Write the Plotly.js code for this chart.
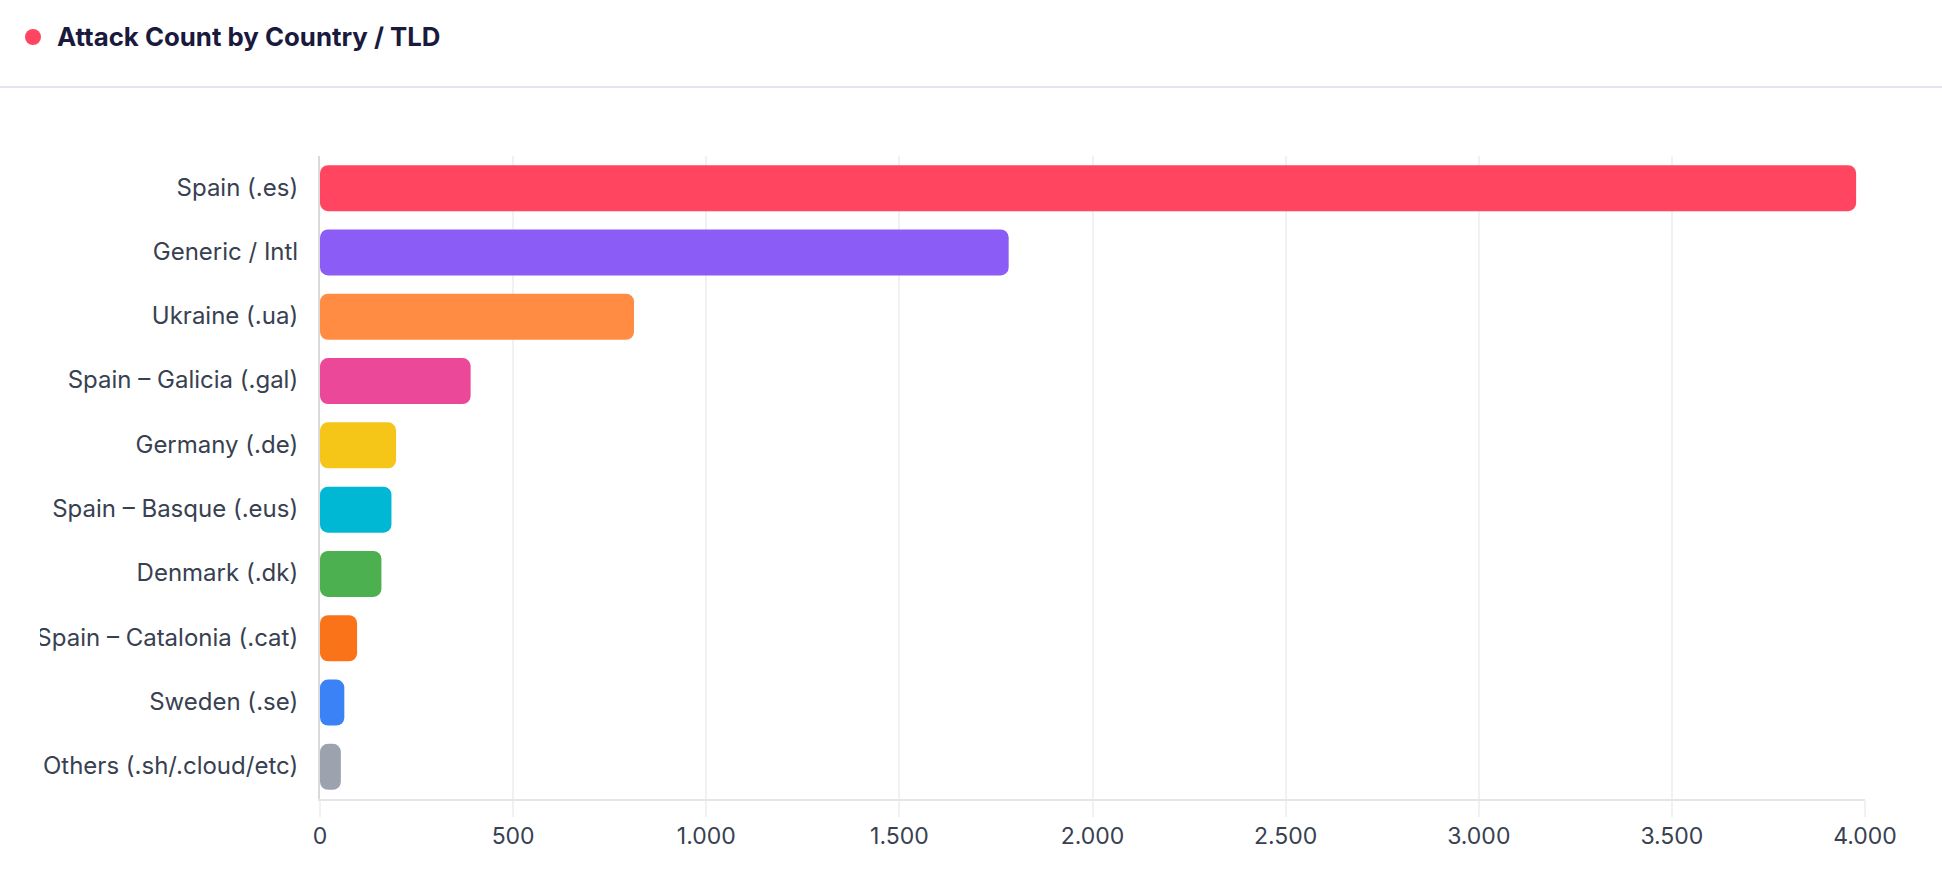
<!DOCTYPE html>
<html>
<head>
<meta charset="utf-8">
<title>Attack Count by Country / TLD</title>
<script src="https://cdn.plot.ly/plotly-3.0.1.min.js"></script>
<style>
    html, body { margin: 0; padding: 0; background: #fff; overflow: hidden; }
    body { width: 1942px; height: 878px; position: relative; font-family: Inter, sans-serif; }
    .card-header { position: absolute; left: 0; top: 0; width: 100%; height: 86px; border-bottom: 2px solid #e3e6f0; }
    .dot { position: absolute; left: 25px; top: 29px; width: 16px; height: 16px; border-radius: 50%; background: #ff4560; }
    .card-title { position: absolute; left: 57px; top: 21px; font-size: 25.8px; line-height: 32px; font-weight: 700; color: #1a1a3e; white-space: nowrap; }
    #chart { position: absolute; left: 40px; top: 0; width: 1902px; height: 878px; }
</style>
</head>
<body>
<div class="card-header">
    <span class="dot"></span>
    <span class="card-title">Attack Count by Country / TLD</span>
</div>
<div id="chart"></div>
<script>
// Values
const countries = ['Spain (.es)', 'Generic / Intl', 'Ukraine (.ua)', 'Spain – Galicia (.gal)', 'Germany (.de)',
    'Spain – Basque (.eus)', 'Denmark (.dk)', 'Spain – Catalonia (.cat)', 'Sweden (.se)', 'Others (.sh/.cloud/etc)'];
const attackCounts = [3977, 1783, 813, 390, 197, 185, 159, 96, 63, 54];
const barBase = [0, 0, 0, 0, 0, 0, 0, 0, 0, 0]; // an explicit base makes plotly round all four corners
const barColors = ['#ff4560', '#8b5cf6', '#ff8c42', '#ec4899', '#f5c518', '#00b8d4', '#4caf50', '#fb7318', '#3b82f6', '#9ca3af'];
const xTicks = [0, 500, 1000, 1500, 2000, 2500, 3000, 3500, 4000];

const textColor = '#374151';
const gridColor = '#f0f0f5';

Plotly.newPlot('chart', [{
    type: 'bar',
    orientation: 'h',
    y: countries,
    x: attackCounts,
    base: barBase,
    marker: { color: barColors, cornerradius: 8 },
    hovertemplate: '%{y}: %{x}<extra></extra>'
}], {
    width: 1902,
    height: 878,
    margin: { l: 280, r: 77, t: 156, b: 79 },
    paper_bgcolor: 'rgba(0,0,0,0)',
    plot_bgcolor: 'rgba(0,0,0,0)',
    separators: ',.',
    showlegend: false,
    bargap: 0.285,
    xaxis: {
        range: [0, 4000],
        tickvals: xTicks,
        tickformat: ',d',
        tickfont: { family: 'Inter, sans-serif', size: 23, color: textColor },
        ticks: 'outside',
        ticklen: 16,
        tickwidth: 2,
        tickcolor: gridColor,
        ticklabelstandoff: -1,
        gridcolor: gridColor,
        gridwidth: 2,
        showline: true,
        linecolor: '#e5e5e8',
        linewidth: 2,
        zeroline: false
    },
    yaxis: {
        autorange: 'reversed',
        type: 'category',
        tickfont: { family: 'Inter, sans-serif', size: 24, color: textColor },
        ticks: 'outside',
        ticklen: 15,
        tickcolor: 'rgba(0,0,0,0)',
        ticklabelshift: 1,
        showgrid: false,
        showline: true,
        linecolor: '#d9d9dc',
        linewidth: 2,
        zeroline: false
    }
}, { displayModeBar: false });
</script>
</body>
</html>
